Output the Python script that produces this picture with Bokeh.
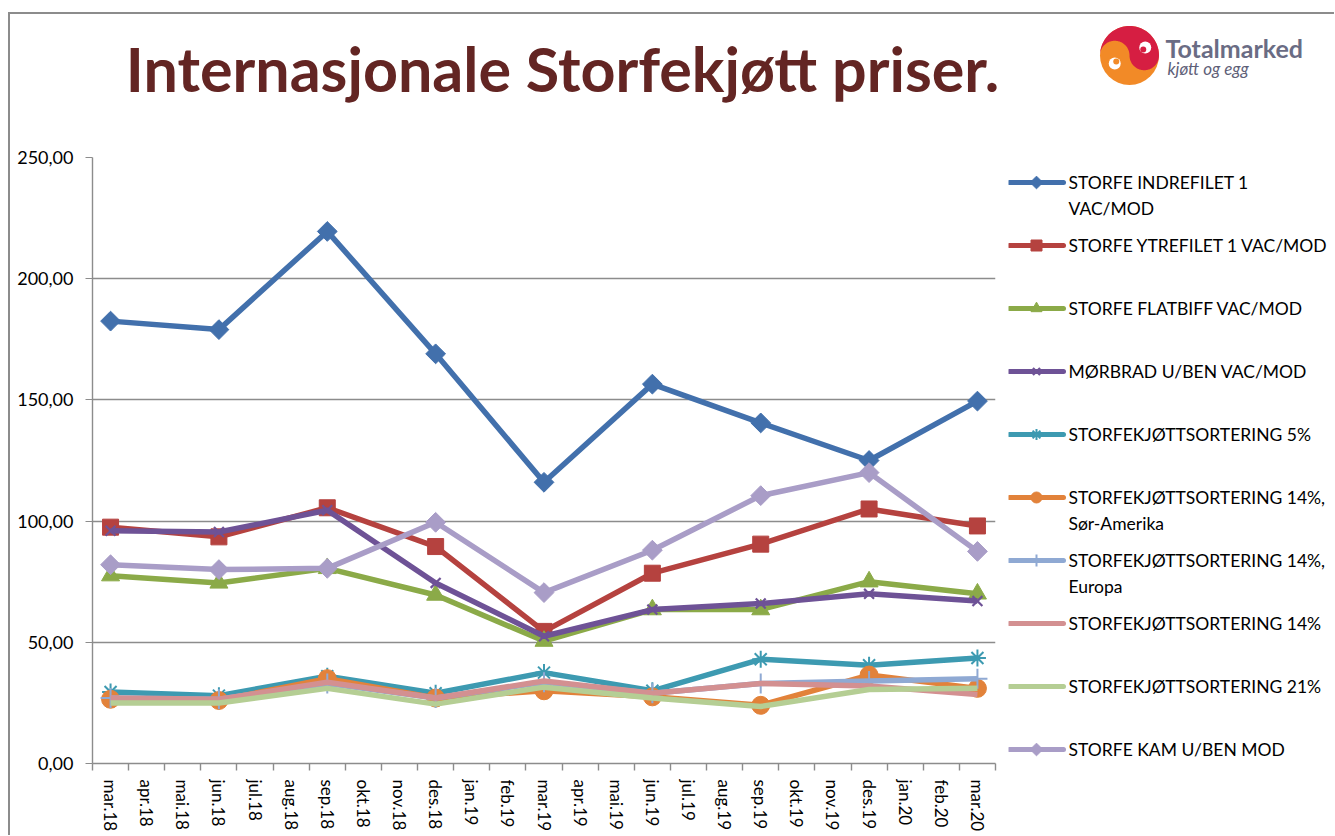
import numpy as np
from bokeh.plotting import figure
from bokeh.layouts import column, row
from bokeh.models import Range1d, FixedTicker, CustomJSTickFormatter
from bokeh.core.properties import value
from bokeh.embed import file_html
from bokeh.resources import INLINE

# ---------------- data ----------------
months = ["mar.18", "apr.18", "mai.18", "jun.18", "jul.18", "aug.18", "sep.18", "okt.18",
          "nov.18", "des.18", "jan.19", "feb.19", "mar.19", "apr.19", "mai.19", "jun.19",
          "jul.19", "aug.19", "sep.19", "okt.19", "nov.19", "des.19", "jan.20", "feb.20", "mar.20"]
quarters = ["mar.18", "jun.18", "sep.18", "des.18", "mar.19", "jun.19", "sep.19", "des.19", "mar.20"]

indrefilet = [182.5, 179.0, 219.5, 169.0, 116.0, 156.5, 140.5, 125.0, 149.5]
ytrefilet = [97.5, 93.5, 105.5, 89.5, 54.5, 78.5, 90.5, 105.0, 98.0]
flatbiff = [77.5, 74.5, 80.5, 69.5, 50.5, 63.5, 63.5, 75.0, 70.0]
morbrad = [96.0, 95.5, 104.5, 74.5, 52.5, 63.5, 66.0, 70.0, 67.0]
sort5 = [29.5, 28.0, 36.0, 29.0, 37.5, 30.0, 43.0, 40.5, 43.5]
sort14_sa = [26.5, 26.0, 35.0, 27.0, 30.0, 27.5, 24.0, 36.5, 31.0]
sort14_eu = [27.0, 26.5, 33.0, 27.0, 33.5, 29.0, 33.0, 34.0, 35.0]
sort14 = [27.0, 26.5, 33.5, 27.0, 34.0, 29.0, 33.0, 32.0, 28.5]
sort21 = [25.0, 25.0, 31.0, 24.5, 31.5, 27.0, 23.5, 30.5, 31.0]
kam = [82.0, 80.0, 80.5, 99.5, 70.5, 88.0, 110.5, 120.0, 87.5]

series_names = [
    ["STORFE INDREFILET 1", "VAC/MOD"],
    ["STORFE YTREFILET 1 VAC/MOD"],
    ["STORFE FLATBIFF VAC/MOD"],
    ["MØRBRAD U/BEN VAC/MOD"],
    ["STORFEKJØTTSORTERING 5%"],
    ["STORFEKJØTTSORTERING 14%,", "Sør-Amerika"],
    ["STORFEKJØTTSORTERING 14%,", "Europa"],
    ["STORFEKJØTTSORTERING 14%"],
    ["STORFEKJØTTSORTERING 21%"],
    ["STORFE KAM U/BEN MOD"],
]
series_values = [indrefilet, ytrefilet, flatbiff, morbrad, sort5,
                 sort14_sa, sort14_eu, sort14, sort21, kam]
y_ticks = [0, 50, 100, 150, 200, 250]
title_text = "Internasjonale Storfekjøtt priser."

# ---------------- styles ----------------
colors = ["#4270AC", "#B5423F", "#8BAA48", "#6E5296", "#3D9AB1",
          "#E2823A", "#8FA9D3", "#D39091", "#B5CE94", "#A99DC7"]
# marker, size, angle, line width of marker, legend size
markers = [("square", 14, np.pi / 4, 1, 9), ("square", 16, 0, 1, 11), ("triangle", 18, 0, 1, 11),
           ("x", 14, 0, 2.2, 10), ("asterisk", 17, 0, 2, 11), ("circle", 18, 0, 1, 11),
           ("cross", 20, 0, 2, 12), (None, 0, 0, 0, 0), (None, 0, 0, 0, 0),
           ("square", 14, np.pi / 4, 1, 9)]
FONT = value("Lato")
GRAY = "#8c8c8c"

# page layout (body margin is 0): border at x=8, y=12
TOP_Y0, TOP_Y1 = 14, 134
ROW_Y1 = 835
X0, XMID, X1 = 10, 1008, 1334
F_TOP, F_BOT = 157, 763      # plot frame, page pixels

# ---------------- title / logo strip ----------------
top = figure(width=X1 - X0, height=TOP_Y1 - TOP_Y0, x_range=Range1d(X0, X1),
             y_range=Range1d(TOP_Y1, TOP_Y0),
             output_backend="svg", toolbar_location=None, min_border=0)
top.axis.visible = False
top.grid.visible = False
top.outline_line_color = None
top.text(x=[562], y=[68], text=[title_text], text_font=FONT, text_font_style="bold",
         text_font_size="61px", text_color="#632523", text_align="center",
         text_baseline="middle")

cx, cy, R = 1129.0, 55.0, 29.5
t = np.linspace(0, np.pi, 60)
top.scatter(x=[cx], y=[cy], size=2 * R, marker="circle", fill_color="#F28A27", line_color=None)
red_x = np.concatenate([cx + R * np.cos(t[::-1]),
                        cx + R / 2 + R / 2 * np.cos(t),
                        cx - R / 2 + R / 2 * np.cos(t)])
red_y = np.concatenate([cy - R * np.sin(t[::-1]),
                        cy + R / 2 * np.sin(t),
                        cy - R / 2 * np.sin(t)])
top.patch(x=red_x, y=red_y, fill_color="#D61E42", line_color=None)
top.scatter(x=[cx + R / 2 + 1, cx - R / 2], y=[cy - 8, cy + 8], size=12, marker="circle",
            fill_color="white", line_color=None)
top.scatter(x=[cx + R / 2 - 1, cx - R / 2 + 1.5], y=[cy - 6, cy + 6], size=6, marker="circle",
            fill_color=["#D61E42", "#F28A27"], line_color=None)
top.text(x=[1165], y=[47], text=["Totalmarked"], text_font=FONT, text_font_style="bold",
         text_font_size="25px", text_color="#6A6C84", text_baseline="middle")
top.text(x=[1167], y=[68], text=["kjøtt og egg"], text_font=FONT, text_font_style="italic",
         text_font_size="17px", text_color="#5E6078", text_baseline="middle")

# ---------------- main chart ----------------
p = figure(width=XMID - X0, height=ROW_Y1 - TOP_Y1, x_range=Range1d(0, len(months)),
           y_range=Range1d(0, 250), output_backend="svg", toolbar_location=None,
           min_border_left=92 - X0, min_border_right=XMID - 995,
           min_border_top=F_TOP - TOP_Y1, min_border_bottom=ROW_Y1 - F_BOT)
p.outline_line_color = None
p.xgrid.visible = False
p.ygrid.grid_line_color = GRAY
p.ygrid.grid_line_width = 1.4
p.ygrid.ticker = FixedTicker(ticks=y_ticks)

p.yaxis.ticker = FixedTicker(ticks=y_ticks, minor_ticks=[])
p.yaxis.formatter = CustomJSTickFormatter(code="return tick.toFixed(2).replace('.', ',');")
p.yaxis.axis_line_color = GRAY
p.yaxis.axis_line_width = 1.4
p.yaxis.major_tick_line_color = GRAY
p.yaxis.major_tick_out = 7
p.yaxis.major_tick_in = 0
p.yaxis.major_label_standoff = 12
p.yaxis.major_label_text_font = "Lato"
p.yaxis.major_label_text_font_size = "18px"
p.yaxis.major_label_text_color = "black"

centers = [i + 0.5 for i in range(len(months))]
p.xaxis.ticker = FixedTicker(ticks=centers, minor_ticks=list(range(len(months) + 1)))
p.xaxis.formatter = CustomJSTickFormatter(args=dict(months=months),
                                          code="return months[Math.floor(tick)];")
p.xaxis.axis_line_color = GRAY
p.xaxis.axis_line_width = 1.4
p.xaxis.major_tick_out = 0
p.xaxis.major_tick_in = 0
p.xaxis.minor_tick_out = 7
p.xaxis.minor_tick_in = 0
p.xaxis.minor_tick_line_color = GRAY
p.xaxis.minor_tick_line_width = 1.4
p.xaxis.major_label_orientation = "vertical"
p.xaxis.major_label_standoff = 9
p.xaxis.major_label_text_font = "Lato"
p.xaxis.major_label_text_font_size = "17px"
p.xaxis.major_label_text_color = "black"

qx = [months.index(q) + 0.5 for q in quarters]
for vals, col, (mk, sz, ang, mlw, _) in zip(series_values, colors, markers):
    p.line(x=qx, y=vals, line_color=col, line_width=5.5, line_join="round")
    if mk is not None:
        if mk in ("x", "asterisk", "cross"):
            p.scatter(x=qx, y=vals, marker=mk, size=sz, line_color=col, line_width=mlw)
        else:
            p.scatter(x=qx, y=vals, marker=mk, size=sz, angle=ang,
                      fill_color=col, line_color=col, line_width=mlw)

# ---------------- legend (its frame is aligned with the chart frame) ----------------
leg = figure(width=X1 - XMID, height=ROW_Y1 - TOP_Y1, x_range=Range1d(XMID, X1),
             y_range=Range1d(F_BOT, F_TOP),
             output_backend="svg", toolbar_location=None,
             min_border_left=0, min_border_right=0,
             min_border_top=F_TOP - TOP_Y1, min_border_bottom=ROW_Y1 - F_BOT)
leg.axis.visible = False
leg.grid.visible = False
leg.outline_line_color = None
for i, (names, col, (mk, sz, ang, mlw, lsz)) in enumerate(zip(series_names, colors, markers)):
    yy = 182 + 63 * i
    leg.line(x=[1009, 1063], y=[yy, yy], line_color=col, line_width=5, line_cap="round")
    if mk is not None:
        if mk in ("x", "asterisk", "cross"):
            leg.scatter(x=[1036], y=[yy], marker=mk, size=lsz, line_color=col, line_width=mlw)
        else:
            leg.scatter(x=[1036], y=[yy], marker=mk, size=lsz, angle=ang,
                        fill_color=col, line_color=col)
    leg.text(x=[1068] * len(names), y=[yy + 26 * k for k in range(len(names))], text=names,
             text_font=FONT, text_font_size="17.5px", text_color="black",
             text_baseline="middle")

layout = column(top, row(p, leg),
                styles={"border-left": "2px solid #8c8c8c", "border-top": "2px solid #8c8c8c",
                        "margin-top": "12px", "margin-left": "8px"})
open("out.html", "w").write(file_html(layout, INLINE))
